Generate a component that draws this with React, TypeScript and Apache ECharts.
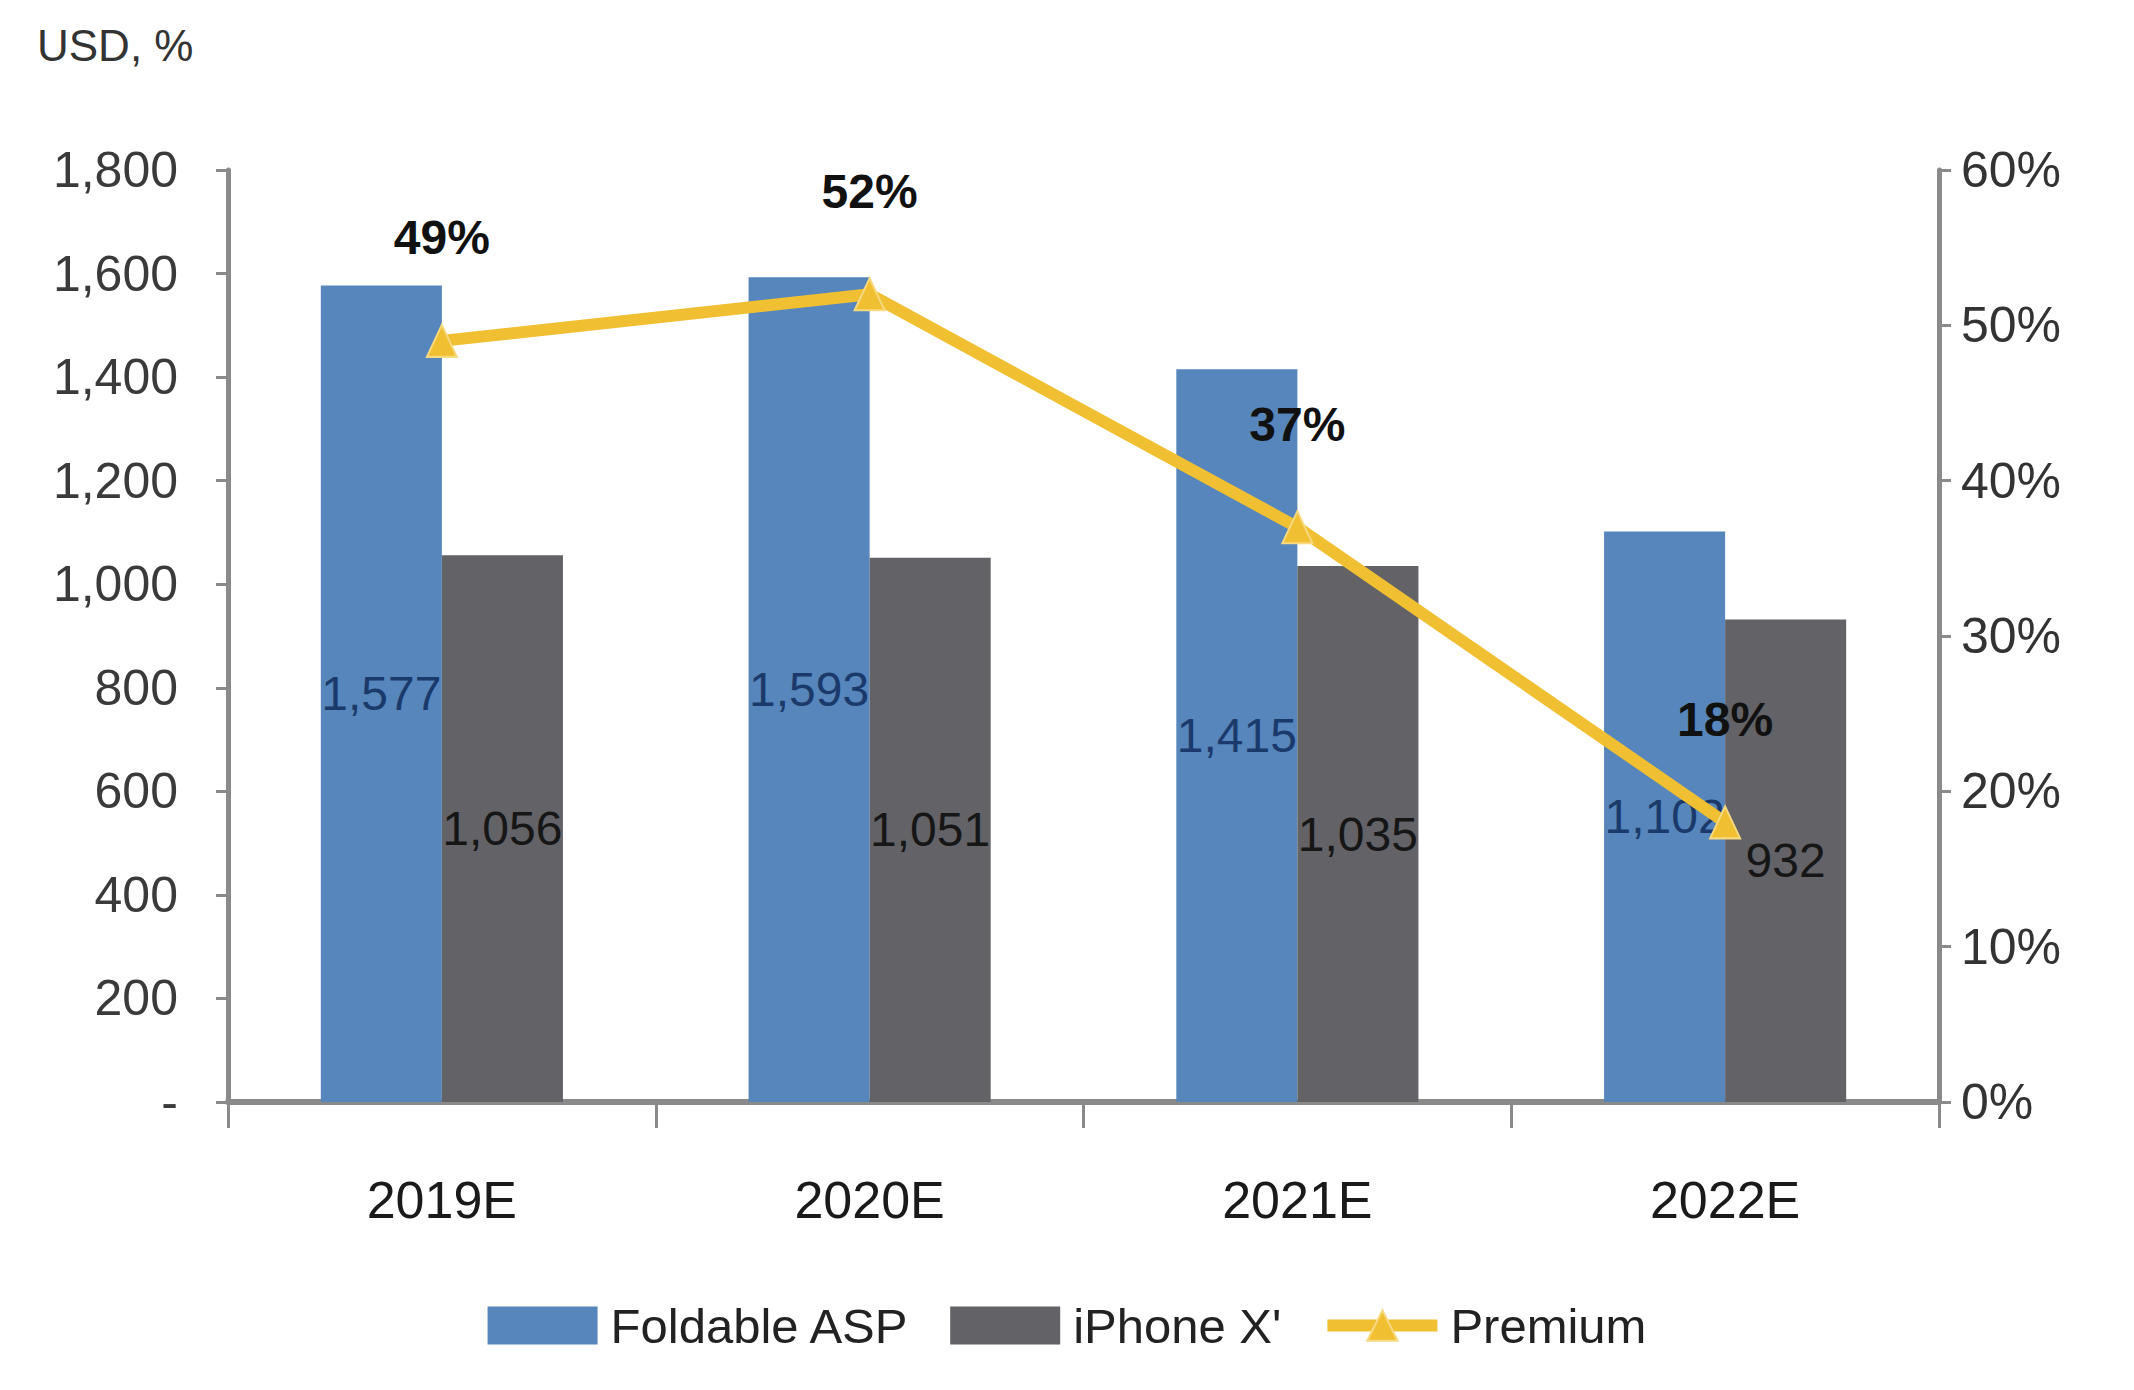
import React, { useEffect, useRef } from "react";
import * as echarts from "echarts";

const categories = ["2019E", "2020E", "2021E", "2022E"];
const foldableASP = [1577, 1593, 1415, 1102];
const iphoneX = [1056, 1051, 1035, 932];
const premium = [0.49, 0.52, 0.37, 0.18];
const seriesNames = ["Foldable ASP", "iPhone X'", "Premium"];
const unitLabel = "USD, %";

const FONT = "'Liberation Sans', Arial, sans-serif";

const BLUE = "#5686BB";
const GRAY = "#626267";
const YELLOW = "#F0BF32";
const AXIS = "#8a8a8a";

export default function App() {
  const ref = useRef<HTMLDivElement>(null);

  useEffect(() => {
    document.body.style.margin = "0";
    const chart = echarts.init(ref.current!, null, { renderer: "svg" });
    const fmt = (v: number) => (v === 0 ? "-" : v.toLocaleString("en-US"));
    chart.setOption({
      animation: false,
      backgroundColor: "#ffffff",
      title: {
        text: unitLabel,
        left: 32,
        top: 18,
        textStyle: { fontFamily: FONT, fontSize: 44, fontWeight: "normal", color: "#333" },
      },
      legend: {
        left: "center",
        top: 1296,
        itemWidth: 110,
        itemHeight: 38,
        itemGap: 40,
        textStyle: { fontFamily: FONT, fontSize: 49, color: "#222", padding: [0, 0, 0, 8] },
        lineStyle: { width: 12 },
        data: [
          { name: seriesNames[0], icon: "rect" },
          { name: seriesNames[1], icon: "rect" },
          { name: seriesNames[2] },
        ],
      },
      grid: { left: 228, right: 195, top: 170, bottom: 288, containLabel: false },
      xAxis: {
        type: "category",
        data: categories,
        boundaryGap: true,
        axisLine: { lineStyle: { color: AXIS, width: 6 } },
        axisTick: { show: true, length: 26, lineStyle: { color: AXIS, width: 3 } },
        axisLabel: { margin: 72, fontFamily: FONT, fontSize: 52, color: "#1a1a1a" },
      },
      yAxis: [
        {
          type: "value",
          min: 0,
          max: 1800,
          interval: 200,
          splitLine: { show: false },
          axisLine: { show: true, lineStyle: { color: AXIS, width: 5 } },
          axisTick: { show: true, length: 12, lineStyle: { color: AXIS, width: 3 } },
          axisLabel: { margin: 50, fontFamily: FONT, fontSize: 50, color: "#3a3a3a", formatter: fmt },
        },
        {
          type: "value",
          min: 0,
          max: 0.6,
          interval: 0.1,
          splitLine: { show: false },
          axisLine: { show: true, lineStyle: { color: AXIS, width: 5 } },
          axisTick: { show: true, length: 12, lineStyle: { color: AXIS, width: 3 } },
          axisLabel: {
            margin: 22,
            fontFamily: FONT,
            fontSize: 50,
            color: "#333",
            formatter: (v: number) => Math.round(v * 100) + "%",
          },
        },
      ],
      series: [
        {
          name: seriesNames[0],
          type: "bar",
          data: foldableASP,
          barWidth: "28.3%",
          barGap: "0%",
          itemStyle: { color: BLUE },
          label: {
            show: true,
            position: "inside",
            fontFamily: FONT,
            fontSize: 48,
            color: "#1b3a6b",
            formatter: (p: any) => p.value.toLocaleString("en-US"),
          },
        },
        {
          name: seriesNames[1],
          type: "bar",
          data: iphoneX,
          barWidth: "28.3%",
          barGap: "0%",
          itemStyle: { color: GRAY },
          label: {
            show: true,
            position: "inside",
            fontFamily: FONT,
            fontSize: 48,
            color: "#161616",
            formatter: (p: any) => p.value.toLocaleString("en-US"),
          },
        },
        {
          name: seriesNames[2],
          type: "line",
          yAxisIndex: 1,
          data: premium,
          z: 5,
          symbol: "triangle",
          symbolSize: [30, 32],
          lineStyle: { color: YELLOW, width: 12 },
          itemStyle: { color: YELLOW, borderColor: "#F7DA80", borderWidth: 2 },
          label: {
            show: true,
            position: "top",
            distance: 62,
            fontFamily: FONT,
            fontSize: 48,
            fontWeight: "bold",
            color: "#111",
            formatter: (p: any) => Math.round(p.value * 100) + "%",
          },
        },
      ],
    });
    return () => chart.dispose();
  }, []);

  return <div ref={ref} style={{ width: 2134, height: 1390 }} />;
}
